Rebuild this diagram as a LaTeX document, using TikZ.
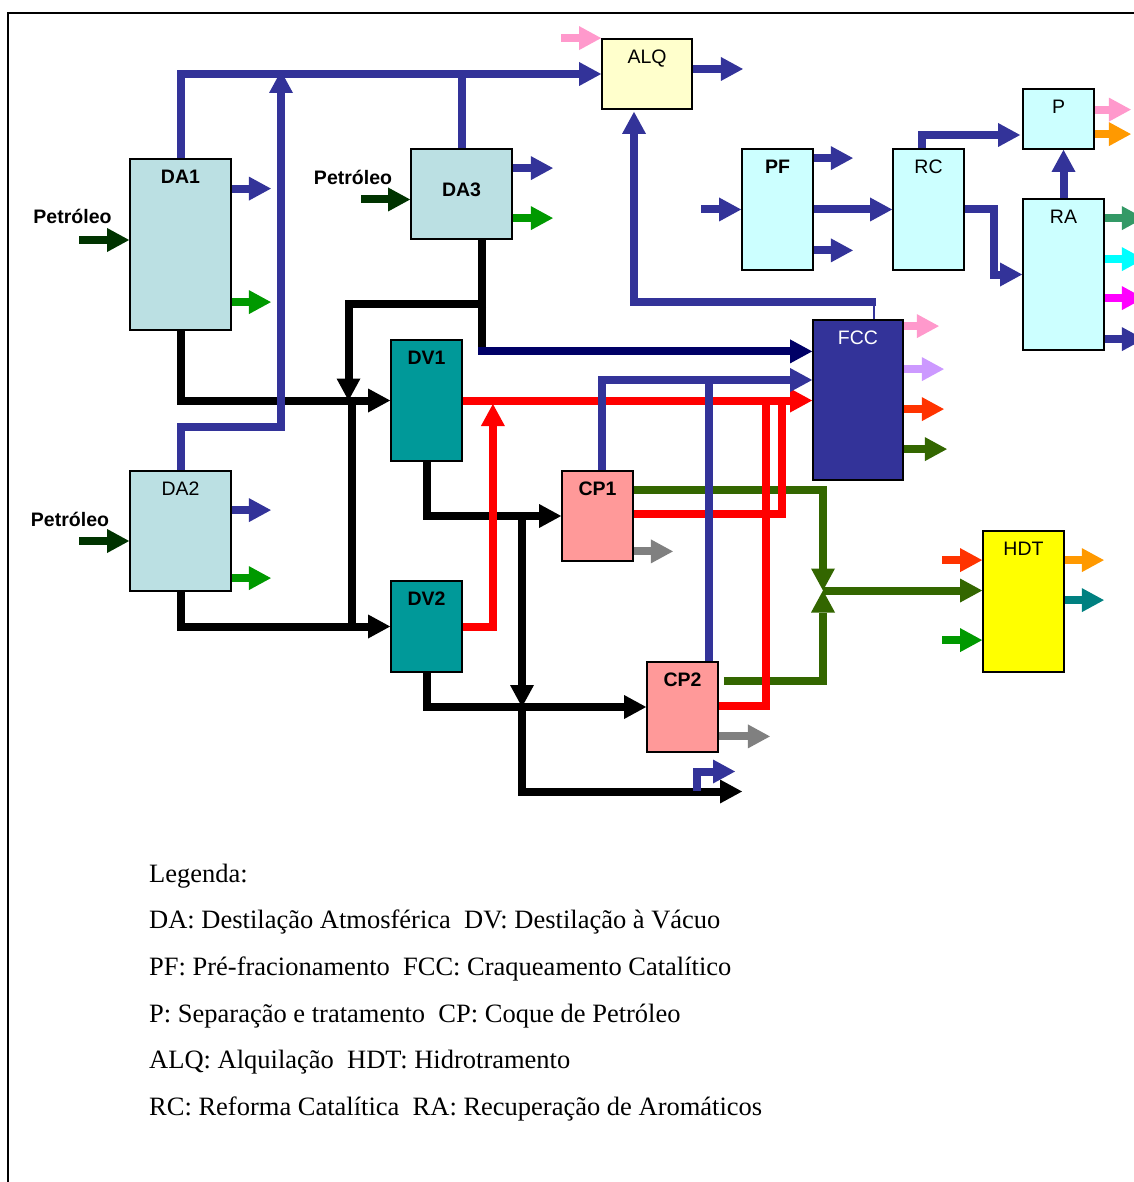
\documentclass[tikz,border=0pt]{standalone}
\usepackage{fontspec}
\setmainfont{Liberation Serif}
\newfontfamily\sfa{Liberation Sans}
\usetikzlibrary{arrows.meta,calc}
\definecolor{cblue}{HTML}{333399}
\definecolor{cnavy}{HTML}{000066}
\definecolor{cdafill}{RGB}{187,224,227}
\definecolor{clight}{HTML}{CCFFFF}
\definecolor{calq}{HTML}{FFFFCC}
\definecolor{cdv}{HTML}{009999}
\definecolor{ccp}{HTML}{FF9999}
\definecolor{chdt}{HTML}{FFFF00}
\definecolor{cpet}{HTML}{003300}
\definecolor{cgreen}{HTML}{009900}
\definecolor{colive}{HTML}{336600}
\definecolor{cgray}{HTML}{808080}
\definecolor{cpink}{HTML}{FF99CC}
\definecolor{corange}{HTML}{FF9900}
\definecolor{credor}{HTML}{FF3300}
\definecolor{clav}{HTML}{CC99FF}
\definecolor{csea}{HTML}{339966}
\definecolor{cteal}{HTML}{008080}
\definecolor{ccyan}{HTML}{00FFFF}
\definecolor{cmag}{HTML}{FF00FF}
\definecolor{cred}{HTML}{FF0000}
\pgfdeclarelayer{bgfill}
\pgfdeclarelayer{bg}
\pgfsetlayers{bgfill,bg,main}
\begin{document}
\begin{tikzpicture}[x=1pt,y=-1pt,
 fl/.style={line width=8pt},
 ar/.style={-{Triangle[length=22pt,width=24pt,line width=0pt]}},
 box/.style={draw=black,line width=1.8pt,inner sep=0pt},
 lbl/.style={font=\sfa\fontsize{19.5}{22}\selectfont,anchor=base,inner sep=0pt,yshift=-25.5pt},
 pet/.style={font=\sfa\bfseries\fontsize{19.5}{22}\selectfont,anchor=base,inner sep=0pt},
 leg/.style={font=\fontsize{26.5}{30}\selectfont,anchor=base west,inner sep=0pt},
]
\useasboundingbox (0,0) rectangle (1133,1182);
\begin{pgfonlayer}{bgfill}
\fill[white] (0,0) rectangle (1133,1182);
\end{pgfonlayer}
\draw[line width=1.5pt] (8,1190) -- (8,13) -- (1140,13);

% boxes
\node[box,fill=cdafill,minimum width=101pt,minimum height=171pt,label={[lbl]north:\bfseries DA1}] (DA1) at (180.5,244.5) {};
\node[box,fill=cdafill,minimum width=101pt,minimum height=120pt,label={[lbl]north:DA2}] (DA2) at (180.5,531) {};
\node[box,fill=cdafill,minimum width=101pt,minimum height=90pt,label={[lbl,yshift=-22.5pt]north:\bfseries DA3}] (DA3) at (461.5,194) {};
\node[box,fill=calq,minimum width=90pt,minimum height=70pt,label={[lbl]north:ALQ}] (ALQ) at (647,74) {};
\node[box,fill=clight,minimum width=71pt,minimum height=121pt,label={[lbl]north:\bfseries PF}] (PF) at (777.5,209.5) {};
\node[box,fill=clight,minimum width=71pt,minimum height=121pt,label={[lbl]north:RC}] (RC) at (928.5,209.5) {};
\node[box,fill=clight,minimum width=71pt,minimum height=60pt,label={[lbl]north:P}] (P) at (1058.5,119) {};
\node[box,fill=clight,minimum width=81pt,minimum height=151pt,label={[lbl]north:RA}] (RA) at (1063.5,274.5) {};
\node[box,fill=cblue,minimum width=90pt,minimum height=160pt,label={[lbl,text=white]north:FCC}] (FCC) at (858,400) {};
\node[box,fill=cdv,minimum width=71pt,minimum height=121pt,label={[lbl]north:\bfseries DV1}] (DV1) at (426.5,400.5) {};
\node[box,fill=cdv,minimum width=71pt,minimum height=91pt,label={[lbl]north:\bfseries DV2}] (DV2) at (426.5,626.5) {};
\node[box,fill=ccp,minimum width=71pt,minimum height=90pt,label={[lbl]north:\bfseries CP1}] (CP1) at (597.5,516) {};
\node[box,fill=ccp,minimum width=71pt,minimum height=90pt,label={[lbl]north:\bfseries CP2}] (CP2) at (682.5,707) {};
\node[box,fill=chdt,minimum width=81pt,minimum height=141pt,label={[lbl]north:HDT}] (HDT) at (1023.5,601.5) {};

\node[pet] (pet1) at (72.5,224) {Petróleo};
\node[pet] (pet3) at (353,185) {Petróleo};
\node[pet] (pet2) at (70,526) {Petróleo};

\coordinate (d3) at ($(DA3.south)+(20.5,0)$);
\coordinate (nv) at ($(d3)+(-4,111.5)$);
\coordinate (jb) at (348.5,400.5);
\coordinate (jc) at (352,396.5);
\coordinate (jd) at (352,630);
\coordinate (je) at (522,512);
\coordinate (jf) at (522,707);
\coordinate (jh) at (742,791.5);
\coordinate (jg) at (823,590.5);
\coordinate (ja) at (281,71);
\coordinate (bb) at (696.5,791);
\coordinate (r1) at (782,400.5);
\coordinate (r2) at (765.5,400.5);

\begin{pgfonlayer}{bg}
% black flows
\draw[fl,ar] (DA1.south) |- (DV1.west);
\draw[fl,ar] (DA2.south) |- (DV2.west);
\draw[fl] (d3) -- ++(0,107.5);
\draw[fl,ar] ($(d3)+(4,64.5)$) -| (jb);
\draw[fl] (jc) -- (jd);
\draw[fl,ar] (DV1.south) |- (CP1.west);
\draw[fl,ar] (DV2.south) |- (CP2.west);
\draw[fl,ar] (je) -- (jf);
\draw[fl,ar] (jf) |- (jh);
% olive flows
\draw[fl,colive,ar] ($(CP1.north east)+(0,19.5)$) -| (jg);
\draw[fl,colive,ar] ($(CP2.north east)+(5,19.5)$) -| (jg);
\draw[fl,colive,ar] (jg) -- (jg -| HDT.west);
% red flows
\draw[fl,cred,ar] (DV1.east) -- (DV1.east -| FCC.west);
\draw[fl,cred,ar] (DV2.east) -| ($(DV1.east)+(30,3.5)$);
\draw[fl,cred] ($(CP1.east)+(0,-2)$) -| (r1);
\draw[fl,cred] ($(CP2.east)+(0,-1)$) -| (r2);
% navy
\draw[fl,cnavy,ar] (nv) -- (nv -| FCC.west);
% blue flows
\draw[fl,cblue,ar] (DA1.north) |- (ALQ.west);
\draw[fl,cblue] (DA3.north) -- (DA3.north |- ALQ.west);
\draw[fl,cblue,ar] (DA2.north) -- ++(0,-43.5) -| (ja);
\draw[line width=2.5pt,cblue] ($(FCC.north)+(16,0)$) -- ++(0,-19);
\draw[fl,cblue,ar] ($(FCC.north)+(18,-17.5)$) -| ($(ALQ.south)+(-13,2)$);
\draw[fl,cblue,ar] ($(CP1.north)+(4.5,0)$) |- ($(FCC.west)+(0,-20)$);
\draw[fl,cblue] ($(CP2.north)+(26,0)$) -- ++(0,-282);
\draw[fl,cblue,ar] (bb) -- ++(0,-19.5) -- ++(38.5,0);
\draw[fl,cblue,ar] ($(PF.west)+(-40,0)$) -- (PF.west);
\draw[fl,cblue,ar] ($(PF.north east)+(0,10)$) -- ++(39,0);
\draw[fl,cblue,ar] (PF.east) -- (RC.west);
\draw[fl,cblue,ar] ($(PF.south east)+(0,-20.5)$) -- ++(39,0);
\draw[fl,cblue,ar] ($(RC.north)+(-6.5,0)$) |- ($(P.west)+(-2,16)$);
\draw[fl,cblue,ar] (RC.east) -- ++(29,0) |- (RA.west);
\draw[fl,cblue,ar] (RA.north) -- (RA.north |- P.south);
% stubs
\draw[fl,cblue,ar] ($(DA1.north east)+(0,30.5)$) -- ++(39,0);
\draw[fl,cgreen,ar] ($(DA1.north east)+(0,144)$) -- ++(39,0);
\draw[fl,cblue,ar] ($(DA2.north east)+(0,40)$) -- ++(39,0);
\draw[fl,cgreen,ar] ($(DA2.north east)+(0,108)$) -- ++(39,0);
\draw[fl,cblue,ar] ($(DA3.north east)+(0,20)$) -- ++(40,0);
\draw[fl,cgreen,ar] ($(DA3.north east)+(0,70)$) -- ++(40,0);
\draw[fl,cpet,ar] ($(DA1.west)+(-50,-4.5)$) -- ($(DA1.west)+(0,-4.5)$);
\draw[fl,cpet,ar] ($(DA3.west)+(-49,5.5)$) -- ($(DA3.west)+(0,5.5)$);
\draw[fl,cpet,ar] ($(DA2.west)+(-50,10)$) -- ($(DA2.west)+(0,10)$);
\draw[fl,cpink,ar] ($(ALQ.north west)+(-40,0)$) -- (ALQ.north west);
\draw[fl,cblue,ar] ($(ALQ.east)+(0,-5)$) -- ++(50,0);
\draw[fl,cpink,ar] ($(P.north east)+(0,21.5)$) -- ++(36,0);
\draw[fl,corange,ar] ($(P.north east)+(0,46)$) -- ++(36,0);
\draw[fl,csea,ar] ($(RA.north east)+(0,20)$) -- ++(39,0);
\draw[fl,ccyan,ar] ($(RA.north east)+(0,61)$) -- ++(39,0);
\draw[fl,cmag,ar] ($(RA.north east)+(0,100)$) -- ++(39,0);
\draw[fl,cblue,ar] ($(RA.north east)+(0,141)$) -- ++(39,0);
\draw[fl,cpink,ar] ($(FCC.north east)+(0,7)$) -- ++(35,0);
\draw[fl,clav,ar] ($(FCC.north east)+(0,50)$) -- ++(40,0);
\draw[fl,credor,ar] ($(FCC.north east)+(0,90)$) -- ++(40,0);
\draw[fl,colive,ar] ($(FCC.north east)+(0,130)$) -- ++(43,0);
\draw[fl,cgray,ar] ($(CP1.south east)+(0,-10.5)$) -- ++(39,0);
\draw[fl,cgray,ar] ($(CP2.south east)+(0,-16.5)$) -- ++(51,0);
\draw[fl,credor,ar] ($(HDT.north west)+(-40,30)$) -- ($(HDT.north west)+(0,30)$);
\draw[fl,cgreen,ar] ($(HDT.north west)+(-40,110)$) -- ($(HDT.north west)+(0,110)$);
\draw[fl,corange,ar] ($(HDT.north east)+(0,30)$) -- ++(39,0);
\draw[fl,cteal,ar] ($(HDT.north east)+(0,70)$) -- ++(39,0);
\end{pgfonlayer}

% legend
\node[leg] (L0) at (149,882) {Legenda:};
\node[leg] (L1) at (149,928.7) {DA: Destilação Atmosférica~ DV: Destilação à Vácuo};
\node[leg] (L2) at (149,975.4) {PF: Pré-fracionamento~ FCC: Craqueamento Catalítico};
\node[leg] (L3) at (149,1022) {P: Separação e tratamento~ CP: Coque de Petróleo};
\node[leg] (L4) at (149,1068.8) {ALQ: Alquilação~ HDT: Hidrotramento};
\node[leg] (L5) at (149,1115.5) {RC: Reforma Catalítica~ RA: Recuperação de Aromáticos};
\end{tikzpicture}
\end{document}
